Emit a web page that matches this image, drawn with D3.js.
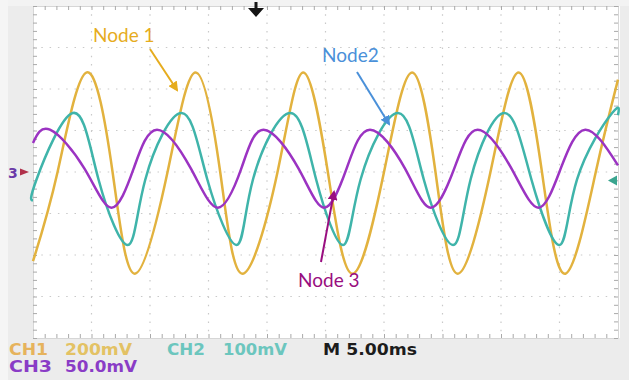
<!DOCTYPE html>
<html>
<head>
<meta charset="utf-8">
<script src="https://cdnjs.cloudflare.com/ajax/libs/d3/7.8.5/d3.min.js"></script>
<style>
  body { margin: 0; background: #fff; }
  svg { display: block; }
</style>
</head>
<body>
<svg id="scope" width="629" height="380"></svg>
<script>
// traces: time in ms, level in mV
var ch1Time = [0, 2.1, 4.6, 6.8, 8.7, 11.5, 13.9, 16.0, 17.9, 20.9, 23.1, 25.2, 27.3, 30.0, 32.4, 34.4, 36.3, 39.1, 41.5, 43.5, 45.5, 48.1, 50.0];
var ch1Volt = [-430, 0, 480, 0, -490, 0, 480, 0, -490, 0, 480, 0, -490, 0, 480, 0, -490, 0, 480, 0, -490, 0, 445];

var ch2Time = [0, 0.3, 3.4, 5.6, 8.1, 9.6, 12.7, 14.9, 17.4, 18.8, 22.0, 24.2, 26.5, 28.0, 31.2, 33.4, 35.9, 37.4, 40.3, 42.6, 45.0, 46.5, 49.5, 50.0];
var ch2Volt = [-50, 0, 160, 0, -158, 0, 160, 0, -158, 0, 160, 0, -158, 0, 160, 0, -158, 0, 160, 0, -158, 0, 160, 155];

var ch3Time = [0, 1.45, 4.4, 6.7, 8.6, 10.6, 13.5, 15.8, 17.8, 19.7, 22.7, 24.9, 26.8, 28.8, 31.8, 34.0, 36.0, 38.0, 40.9, 43.2, 45.1, 47.2, 50.0];
var ch3Volt = [35, 51, 4, -43, 4, 51, 4, -43, 4, 51, 4, -43, 4, 51, 4, -43, 4, 51, 4, -43, 4, 51, 8];

var channelNames = ["CH1", "CH2", "CH3"];
var voltsPerDiv = [200, 100, 50];
var scaleLabels = ["200mV", "100mV", "50.0mV"];
var groundDiv = [0, -0.18, 0];
var timeLabel = "M 5.00ms";
var nodeLabels = ["Node 1", "Node2", "Node 3"];

(function() {
var colors = ["#e2b23e", "#3fb4aa", "#9b33c2"];
var labelColors = ["#e6b35c", "#6cc6be", "#8a3cc6"];

var svg = d3.select("#scope");
var W = 629, H = 380;
var pLeft = 33, pRight = 618, pTop = 6, pBottom = 338;

var x = d3.scaleLinear().domain([0, 50]).range([pLeft, pRight]);
var y = d3.scaleLinear().domain([-4, 4]).range([pBottom, pTop]);

// screen surround
svg.append("rect").attr("width", W).attr("height", H).attr("fill", "#ececec");
svg.append("rect").attr("x", 0).attr("y", 0).attr("width", 8).attr("height", H).attr("fill", "#f5f5f5");
svg.append("rect").attr("x", 8).attr("y", 0).attr("width", W - 8).attr("height", pTop).attr("fill", "#f3f3f3");
svg.append("rect").attr("x", pLeft).attr("y", pTop)
  .attr("width", pRight - pLeft + 2).attr("height", pBottom - pTop)
  .attr("fill", "#fff");

// dotted graticule
var grid = svg.append("g").attr("stroke", "#c9c9c9").attr("stroke-width", 1.2)
  .attr("stroke-dasharray", "1.5,6.8");
grid.selectAll("line.v").data(d3.range(5, 50, 5)).enter().append("line")
  .attr("class", "v")
  .attr("x1", function(d) { return x(d); }).attr("x2", function(d) { return x(d); })
  .attr("y1", pTop).attr("y2", pBottom);
grid.selectAll("line.h").data(d3.range(-3, 4, 1)).enter().append("line")
  .attr("class", "h")
  .attr("x1", pLeft).attr("x2", pRight)
  .attr("y1", function(d) { return y(d); }).attr("y2", function(d) { return y(d); });

// border ticks
var tickStyle = function(g) {
  g.selectAll("path").attr("stroke", "#d6d6d6");
  g.selectAll("line").attr("stroke", "#a9a9a9");
};
svg.append("g").attr("transform", "translate(0," + pBottom + ")")
  .call(d3.axisBottom(x).tickValues(d3.range(0, 50.01, 1)).tickSizeInner(-4).tickSizeOuter(0).tickFormat(""))
  .call(tickStyle);
svg.append("g").attr("transform", "translate(0," + pTop + ")")
  .call(d3.axisTop(x).tickValues(d3.range(0, 50.01, 1)).tickSizeInner(-4).tickSizeOuter(0).tickFormat(""))
  .call(tickStyle);
svg.append("g").attr("transform", "translate(" + pLeft + ",0)")
  .call(d3.axisLeft(y).tickValues(d3.range(-4, 4.01, 0.2)).tickSizeInner(-4).tickSizeOuter(0).tickFormat(""))
  .call(tickStyle);
svg.append("g").attr("transform", "translate(" + pRight + ",0)")
  .call(d3.axisRight(y).tickValues(d3.range(-4, 4.01, 0.2)).tickSizeInner(-4).tickSizeOuter(0).tickFormat(""))
  .call(tickStyle);

// traces
var traces = [
  { t: ch1Time, v: ch1Volt },
  { t: ch2Time, v: ch2Volt },
  { t: ch3Time, v: ch3Volt }
];
traces.forEach(function(tr, i) {
  var pts = tr.t.map(function(t, k) { return [t, tr.v[k]]; });
  var line = d3.line()
    .x(function(d) { return x(d[0]); })
    .y(function(d) { return y(d[1] / voltsPerDiv[i] + groundDiv[i]); })
    .curve(d3.curveNatural);
  svg.append("path").datum(pts)
    .attr("d", line)
    .attr("fill", "none")
    .attr("stroke", colors[i])
    .attr("stroke-width", 2.5)
    .attr("stroke-linejoin", "round");
});

// trigger position marker
svg.append("path")
  .attr("d", "M254.5,2 L257.5,2 L257.5,8 L264,8 L256,17 L248,8 L254.5,8 Z")
  .attr("fill", "#141414");

// ground markers
var g3 = y(groundDiv[2]);
svg.append("text").attr("x", 8).attr("y", g3 + 5.5)
  .attr("font-family", "DejaVu Sans").attr("font-weight", "bold").attr("font-size", 14)
  .attr("fill", "#6a3aa8").text("3");
svg.append("path")
  .attr("d", "M20," + (g3 - 3.5) + " L29," + g3 + " L20," + (g3 + 3.5) + " Z")
  .attr("fill", "#b0304a");
var g2 = y(groundDiv[1]) + 1;
svg.append("path")
  .attr("d", "M608," + g2 + " L617," + (g2 - 5) + " L617," + (g2 + 5) + " Z")
  .attr("fill", "#3aa58f");

// annotations
svg.append("defs").selectAll("marker").data(["#e6ac1e", "#4a90d9", "#990e80"])
  .enter().append("marker")
  .attr("id", function(d, i) { return "arr" + i; })
  .attr("viewBox", "0 0 10 10").attr("refX", 8).attr("refY", 5)
  .attr("markerWidth", 5).attr("markerHeight", 5).attr("orient", "auto")
  .append("path").attr("d", "M0,0 L10,5 L0,10 Z").attr("fill", function(d) { return d; });

var notes = [
  { text: nodeLabels[0], tx: 93, ty: 42, color: "#e6ac1e", from: [150, 49], to: [177, 90] },
  { text: nodeLabels[1], tx: 322, ty: 62, color: "#4a90d9", from: [357, 72], to: [389, 124] },
  { text: nodeLabels[2], tx: 298, ty: 287, color: "#990e80", from: [321, 262], to: [334, 192] }
];
notes.forEach(function(n, i) {
  svg.append("text").attr("x", n.tx).attr("y", n.ty)
    .attr("font-family", "Lato").attr("font-size", 19)
    .attr("fill", n.color).text(n.text);
  svg.append("line")
    .attr("x1", n.from[0]).attr("y1", n.from[1])
    .attr("x2", n.to[0]).attr("y2", n.to[1])
    .attr("stroke", n.color).attr("stroke-width", 2)
    .attr("marker-end", "url(#arr" + i + ")");
});

// readout line
var readout = [
  { s: channelNames[0], x: 9, y: 355, w: 39, c: labelColors[0] },
  { s: scaleLabels[0], x: 65, y: 355, w: 67, c: "#e3c264" },
  { s: channelNames[1], x: 167, y: 355, w: 38, c: labelColors[1] },
  { s: scaleLabels[1], x: 223, y: 355, w: 64, c: labelColors[1] },
  { s: timeLabel, x: 323, y: 355, w: 94, c: "#1c1c1c" },
  { s: channelNames[2], x: 9, y: 372, w: 43, c: labelColors[2] },
  { s: scaleLabels[2], x: 65, y: 372, w: 72, c: labelColors[2] }
];
svg.selectAll("text.readout").data(readout).enter().append("text")
  .attr("class", "readout")
  .attr("x", function(d) { return d.x; })
  .attr("y", function(d) { return d.y; })
  .attr("textLength", function(d) { return d.w; })
  .attr("lengthAdjust", "spacingAndGlyphs")
  .attr("font-family", "DejaVu Sans").attr("font-weight", "bold").attr("font-size", 15)
  .attr("fill", function(d) { return d.c; })
  .text(function(d) { return d.s; });
})();
</script>
</body>
</html>
